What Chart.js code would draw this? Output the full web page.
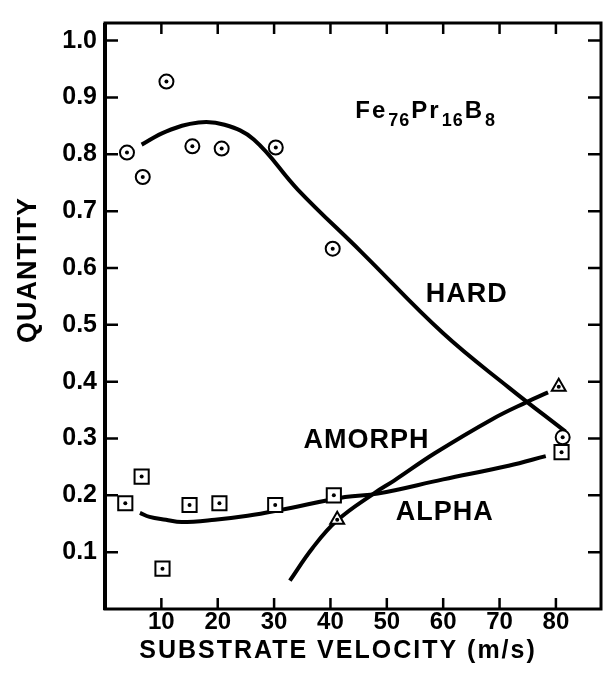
<!DOCTYPE html>
<html>
<head>
<meta charset="utf-8">
<script src="https://cdn.jsdelivr.net/npm/chart.js@4.4.0/dist/chart.umd.min.js"></script>
<style>
  html, body { margin: 0; padding: 0; background: #fff; }
  canvas { display: block; }
</style>
</head>
<body>
<canvas id="chart" width="613" height="681"></canvas>
<script>
// measured points
const hardX = [3.9, 6.7, 10.9, 15.5, 20.7, 30.3, 40.4, 81.2];
const hardY = [0.803, 0.760, 0.928, 0.814, 0.810, 0.812, 0.634, 0.302];
const alphaX = [3.6, 6.5, 10.2, 15.0, 20.3, 30.2, 40.6, 81.0];
const alphaY = [0.186, 0.233, 0.071, 0.183, 0.186, 0.183, 0.200, 0.276];
const amorphX = [41.2, 80.5];
const amorphY = [0.157, 0.391];

// hand drawn trend curves
const hardCurveX = [6.5, 10.8, 16.6, 21.2, 26.4, 34.2, 45.5, 60.0, 71.6, 81.7];
const hardCurveY = [0.817, 0.840, 0.856, 0.852, 0.826, 0.738, 0.628, 0.485, 0.390, 0.312];
const alphaCurveX = [6.2, 7.9, 10.8, 13.6, 19.5, 25.3, 31.0, 42.6, 48.4, 60.0, 71.6, 78.2];
const alphaCurveY = [0.169, 0.162, 0.157, 0.153, 0.157, 0.164, 0.174, 0.197, 0.203, 0.228, 0.252, 0.269];
const amorphCurveX = [32.8, 36.8, 41.2, 47.8, 51.3, 58.5, 68.7, 74.8, 78.6];
const amorphCurveY = [0.050, 0.107, 0.156, 0.204, 0.226, 0.274, 0.334, 0.364, 0.381];

const xTicks = [10, 20, 30, 40, 50, 60, 70, 80];
const yTicks = [0.1, 0.2, 0.3, 0.4, 0.5, 0.6, 0.7, 0.8, 0.9, 1.0];

const FONT = '"Liberation Sans", Arial, Helvetica, sans-serif';

// curve labels, placed in data units
const curveLabels = [
  { text: 'HARD', x: 56.9, y: 0.540 },
  { text: 'AMORPH', x: 35.2, y: 0.283 },
  { text: 'ALPHA', x: 51.6, y: 0.157 }
];

const pts = (xs, ys) => xs.map((x, i) => ({ x: x, y: ys[i] }));

function curve(xs, ys) {
  return {
    data: pts(xs, ys),
    showLine: true,
    borderColor: '#000',
    borderWidth: 4,
    pointRadius: 0,
    tension: 0.4,
    order: 2
  };
}

function marks(xs, ys, style, r) {
  return {
    data: pts(xs, ys),
    pointStyle: style,
    pointRadius: r,
    pointBorderWidth: 2,
    pointBorderColor: '#000',
    pointBackgroundColor: '#fff',
    showLine: false,
    centerDot: true,
    order: 1
  };
}

// box round the plot with inward ticks on all four sides
const framePlugin = {
  id: 'frame',
  afterDatasetsDraw(chart) {
    const { ctx, chartArea: a, scales } = chart;
    ctx.save();
    ctx.strokeStyle = '#000';

    // dot in the middle of every marker
    ctx.fillStyle = '#000';
    chart.data.datasets.forEach((ds, i) => {
      if (!ds.centerDot) return;
      chart.getDatasetMeta(i).data.forEach(p => {
        ctx.beginPath();
        ctx.arc(p.x, p.y, 2, 0, Math.PI * 2);
        ctx.fill();
      });
    });

    ctx.lineWidth = 3;
    ctx.strokeRect(a.left, a.top, a.right - a.left, a.bottom - a.top);
    ctx.lineWidth = 4;
    ctx.beginPath();
    ctx.moveTo(a.left, a.top);
    ctx.lineTo(a.left, a.bottom + 1);
    ctx.stroke();

    ctx.lineWidth = 2.5;
    ctx.beginPath();
    xTicks.forEach(v => {
      const x = scales.x.getPixelForValue(v);
      ctx.moveTo(x, a.bottom);
      ctx.lineTo(x, a.bottom - 11);
      ctx.moveTo(x, a.top);
      ctx.lineTo(x, a.top + 11);
    });
    yTicks.forEach(v => {
      const y = scales.y.getPixelForValue(v);
      ctx.moveTo(a.left, y);
      ctx.lineTo(a.left + 13, y);
      ctx.moveTo(a.right, y);
      ctx.lineTo(a.right - 13, y);
    });
    ctx.stroke();
    ctx.restore();
  },
  afterDraw(chart) {
    const { ctx, chartArea: a, scales } = chart;
    ctx.save();
    ctx.fillStyle = '#000';
    ctx.textBaseline = 'alphabetic';

    ctx.font = 'bold 27px ' + FONT;
    ctx.letterSpacing = '1px';
    curveLabels.forEach(l => {
      ctx.textAlign = 'left';
      ctx.fillText(l.text, scales.x.getPixelForValue(l.x), scales.y.getPixelForValue(l.y));
    });

    // alloy formula with subscripts
    let fx = scales.x.getPixelForValue(44.4);
    const fy = scales.y.getPixelForValue(0.864);
    [['Fe', false], ['76', true], ['Pr', false], ['16', true], ['B', false], ['8', true]].forEach(([t, sub]) => {
      ctx.font = sub ? 'bold 18px ' + FONT : 'bold 24px ' + FONT;
      ctx.letterSpacing = sub ? '1px' : '2px';
      ctx.fillText(t, fx, fy + (sub ? 8 : 0));
      fx += ctx.measureText(t).width + 1;
    });

    // axis titles
    ctx.font = 'bold 25px ' + FONT;
    ctx.letterSpacing = '2px';
    ctx.textAlign = 'center';
    ctx.fillText('SUBSTRATE VELOCITY (m/s)', a.left + 233, a.bottom + 49);

    ctx.font = 'bold 27px ' + FONT;
    ctx.letterSpacing = '1px';
    ctx.translate(36, 270);
    ctx.rotate(-Math.PI / 2);
    ctx.fillText('QUANTITY', 0, 0);
    ctx.restore();
  }
};

new Chart(document.getElementById('chart'), {
  type: 'scatter',
  data: {
    datasets: [
      curve(hardCurveX, hardCurveY),
      curve(alphaCurveX, alphaCurveY),
      curve(amorphCurveX, amorphCurveY),
      marks(hardX, hardY, 'circle', 7),
      marks(alphaX, alphaY, 'rect', 10),
      marks(amorphX, amorphY, 'triangle', 8)
    ]
  },
  options: {
    responsive: false,
    animation: false,
    devicePixelRatio: 1,
    layout: { padding: { left: 0, right: 3, top: 11, bottom: 0 } },
    plugins: { legend: { display: false }, tooltip: { enabled: false } },
    scales: {
      x: {
        type: 'linear',
        min: 0,
        max: 88,
        afterBuildTicks: s => { s.ticks = xTicks.map(v => ({ value: v })); },
        afterFit: s => { s.height = 72; },
        grid: { display: false, drawTicks: false },
        border: { display: false },
        ticks: {
          color: '#000',
          padding: 1,
          maxRotation: 0,
          autoSkip: false,
          font: { family: FONT, size: 24, weight: 'bold', lineHeight: 1 }
        }
      },
      y: {
        type: 'linear',
        min: 0,
        max: 1.031,
        afterBuildTicks: s => { s.ticks = yTicks.map(v => ({ value: v })); },
        afterFit: s => { s.width = 105; },
        grid: { display: false, drawTicks: false },
        border: { display: false },
        ticks: {
          color: '#000',
          padding: 8,
          autoSkip: false,
          callback: v => v.toFixed(1),
          font: { family: FONT, size: 25, weight: 'bold' }
        }
      }
    }
  },
  plugins: [framePlugin]
});
</script>
</body>
</html>
